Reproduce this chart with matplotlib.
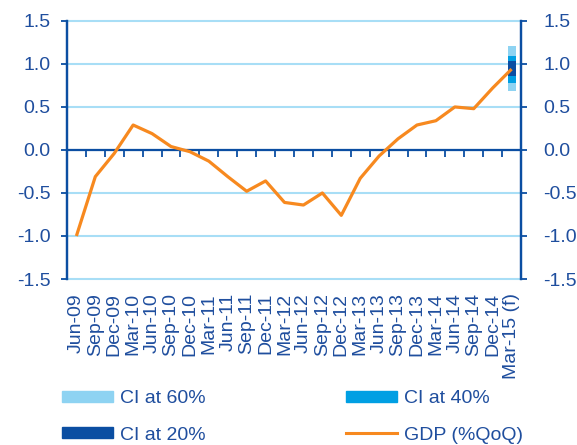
import numpy as np
import matplotlib.pyplot as plt
from matplotlib.patches import Patch
from matplotlib.lines import Line2D

plt.rcParams['font.family'] = ['Liberation Sans', 'DejaVu Sans']

# Данные
quarters = ["Jun-09", "Sep-09", "Dec-09", "Mar-10", "Jun-10", "Sep-10", "Dec-10",
            "Mar-11", "Jun-11", "Sep-11", "Dec-11", "Mar-12", "Jun-12", "Sep-12",
            "Dec-12", "Mar-13", "Jun-13", "Sep-13", "Dec-13", "Mar-14", "Jun-14",
            "Sep-14", "Dec-14", "Mar-15 (f)"]
gdp = [-1.00, -0.31, -0.04, 0.29, 0.19, 0.04, -0.02, -0.13, -0.31, -0.48, -0.36,
       -0.61, -0.64, -0.50, -0.76, -0.33, -0.07, 0.13, 0.29, 0.34, 0.50, 0.48,
       0.72, 0.94]
ci60 = (0.69, 1.21)
ci40 = (0.78, 1.09)
ci20 = (0.86, 1.03)

txt = '#1F4E9E'
dark = '#0B4EA2'
mid = '#009FE3'
light = '#8ED3F2'
orange = '#F7891F'
grid = '#A8DEF6'

fig = plt.figure(figsize=(5.77, 4.45), dpi=100)
ax = fig.add_axes([0.116, 0.373, 0.787, 0.580])

x = np.arange(len(quarters))
last = x[-1]
yt = np.arange(-1.5, 1.51, 0.5)

# горизонтальная сетка
for v in yt:
    ax.axhline(v, color=grid, lw=1.5, zorder=1, clip_on=False)

for (lo, hi), c in [(ci60, light), (ci40, mid), (ci20, dark)]:
    ax.bar(last, hi - lo, bottom=lo, width=0.42, color=c, zorder=3)
ax.plot(x, gdp, color=orange, lw=2.3, zorder=4, solid_capstyle='butt')

ax.set_xlim(-0.5, len(quarters) - 0.5)
ax.set_ylim(-1.5, 1.5)
ax.set_yticks(yt)
ax.set_yticklabels([f"{v:.1f}" for v in yt])
ax.axhline(0, color=dark, lw=1.6, zorder=2)

ax.set_xticks(x)
ax.set_xticklabels(quarters, rotation=90, fontsize=14, color=txt)
ax.tick_params(axis='x', length=0, pad=10)
ax.tick_params(axis='y', labelsize=14, labelcolor=txt, color=dark, length=4,
               width=1.3, direction='out', pad=8)

# правая ось
ax2 = ax.twinx()
ax2.set_ylim(-1.5, 1.5)
ax2.set_yticks(yt)
ax2.set_yticklabels([f"{v:.1f}" for v in yt])
ax2.tick_params(axis='y', labelsize=14, labelcolor=txt, color=dark, length=4,
                width=1.3, direction='out', pad=12)

for a in (ax, ax2):
    for s in ['top', 'bottom']:
        a.spines[s].set_visible(False)
    for s in ['left', 'right']:
        a.spines[s].set_color(dark)
        a.spines[s].set_linewidth(1.6)

# засечки на нулевой линии
sec = ax.secondary_xaxis(0.5)
sec.set_xticks(np.arange(0.5, len(quarters) - 1, 1.0))
sec.set_xticklabels([])
sec.tick_params(axis='x', direction='in', length=5, width=1.3, color=dark)
for s in sec.spines.values():
    s.set_visible(False)

handles = [Patch(color=light, label='CI at 60%'),
           Patch(color=dark, label='CI at 20%'),
           Patch(color=mid, label='CI at 40%'),
           Line2D([], [], color=orange, lw=2.2, label='GDP (%QoQ)')]
fig.legend(handles=handles, ncol=2, loc='upper left', bbox_to_anchor=(0.1075, 0.123),
           frameon=False, fontsize=14, handlelength=2.63, handleheight=0.5,
           columnspacing=7.2, labelspacing=1.0, labelcolor=txt, handletextpad=0.36,
           borderpad=0, borderaxespad=0)

fig.savefig('out.png', dpi=100)
